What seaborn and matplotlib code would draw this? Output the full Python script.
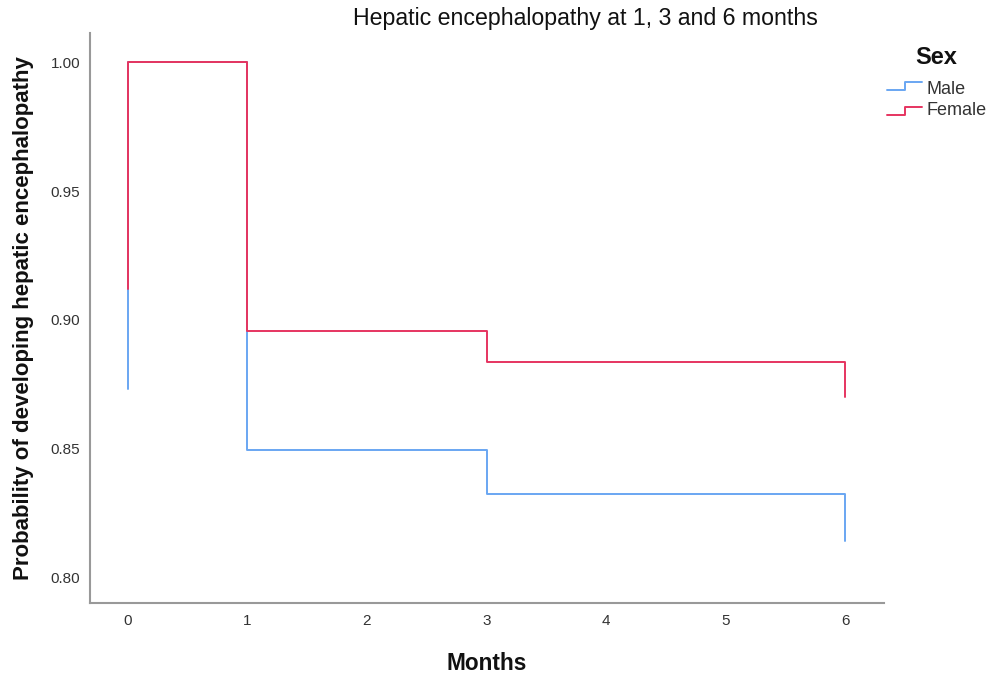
import pandas as pd
import seaborn as sns
import matplotlib.pyplot as plt

# survival estimates (step function, first value is the start of the x=0 drop)
months = [0, 0, 1, 3, 6]
male_surv = [0.873, 1.000, 0.8495, 0.8325, 0.814]
female_surv = [0.912, 1.000, 0.8955, 0.8835, 0.870]
groups = ["Male", "Female"]
colors = {"Male": "#69A6F2", "Female": "#E63460"}

df = pd.concat([
    pd.DataFrame({"Months": months, "surv": male_surv, "Sex": "Male"}),
    pd.DataFrame({"Months": months, "surv": female_surv, "Sex": "Female"}),
], ignore_index=True)

sns.set_style("white")
plt.rcParams["font.family"] = ["Liberation Sans", "DejaVu Sans"]

fig = plt.figure(figsize=(9.9, 6.77), dpi=100)
ax = fig.add_axes([0.0909, 0.109, 0.802, 0.842])

sns.lineplot(data=df, x="Months", y="surv", hue="Sex", hue_order=groups, palette=colors,
             estimator=None, sort=False, drawstyle="steps-post",
             linewidth=1.4, ax=ax, legend=False)

ax.set_xlim(-0.318, 6.326)
ax.set_ylim(0.7899, 1.0113)
ax.set_xticks(range(7))
ax.set_yticks([0.80, 0.85, 0.90, 0.95, 1.00])
ax.set_yticklabels(["0.80", "0.85", "0.90", "0.95", "1.00"])
ax.tick_params(axis="both", length=0, labelsize=11, labelcolor="#333333")
ax.tick_params(axis="x", pad=8)
ax.tick_params(axis="y", pad=7)
for side in ["top", "right"]:
    ax.spines[side].set_visible(False)
for side in ["left", "bottom"]:
    ax.spines[side].set_color("#999999")
    ax.spines[side].set_linewidth(1.5)

ax.set_xlabel("Months", fontsize=16.3, fontweight="bold", color="#111111", labelpad=17)
ax.set_ylabel("Probability of developing hepatic encephalopathy", fontsize=16, fontweight="bold",
              color="#111111", labelpad=12)
fig.text(0.591, 0.972, "Hepatic encephalopathy at 1, 3 and 6 months", ha="center", va="center",
         fontsize=16.7, color="#111111")

# legend with step-shaped handles like SPSS
fig.text(0.946, 0.915, "Sex", ha="center", va="center", fontsize=17, fontweight="bold", color="#111111")
text_y = [0.8685, 0.8375]
for i, g in enumerate(groups):
    ylow = 0.867 - i * 0.037
    yhigh = ylow + 0.012
    lx = [0.896, 0.914, 0.914, 0.931]
    ly = [ylow, ylow, yhigh, yhigh]
    fig.add_artist(plt.Line2D(lx, ly, color=colors[g], linewidth=1.4, transform=fig.transFigure))
    fig.text(0.936, text_y[i], g, ha="left", va="center", fontsize=13, color="#333333")

fig.savefig("out.png", dpi=100)
